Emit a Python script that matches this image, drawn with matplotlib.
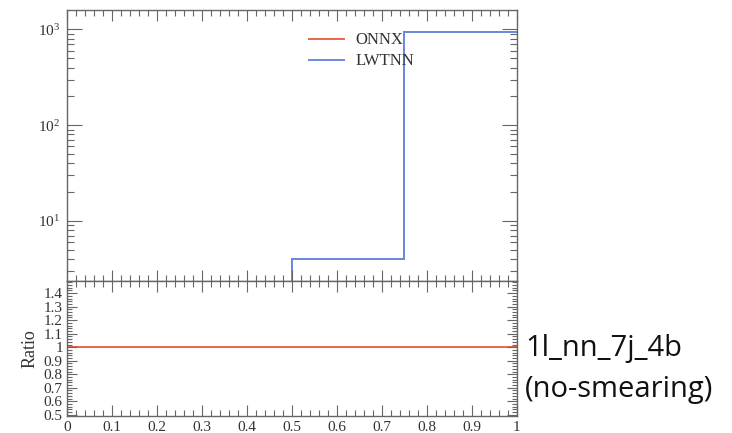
import matplotlib
matplotlib.use("Agg")

import matplotlib.pyplot as plt
from matplotlib.ticker import MultipleLocator, LogLocator, FixedLocator
import numpy as np

# Histogram data (bin edges and contents)
bin_edges = [0.0, 0.25, 0.5, 0.75, 1.0]
onnx_counts = [0, 0, 4, 940]
lwtnn_counts = [0, 0, 4, 940]
ratio_values = [1.0, 1.0, 1.0, 1.0]
ratio_ticks = [0.5, 0.6, 0.7, 0.8, 0.9, 1.0, 1.1, 1.2, 1.3, 1.4]
ratio_ticklabels = ["0.5", "0.6", "0.7", "0.8", "0.9", "1", "1.1", "1.2", "1.3", "1.4"]
x_ticks = [0, 0.1, 0.2, 0.3, 0.4, 0.5, 0.6, 0.7, 0.8, 0.9, 1.0]
x_ticklabels = ["0", "0.1", "0.2", "0.3", "0.4", "0.5", "0.6", "0.7", "0.8", "0.9", "1"]

plt.rcParams["font.family"] = ["Liberation Serif", "DejaVu Serif"]
plt.rcParams["mathtext.default"] = "regular"

ONNX_COLOR = "#e8674a"
LWTNN_COLOR = "#6a8ae0"
AXIS_COLOR = "#666666"
TEXT_COLOR = "#333333"

fig = plt.figure(figsize=(7.32, 4.33), dpi=100)
ax_top = fig.add_axes([0.0915, 0.351, 0.6145, 0.626])
ax_bot = fig.add_axes([0.0915, 0.039, 0.6145, 0.312], sharex=ax_top)

# -- Main panel -------------------------------------------------------
ax_top.set_yscale("log")
ax_top.stairs(onnx_counts, bin_edges, color=ONNX_COLOR, linewidth=1.4,
              baseline=None, label="ONNX")
ax_top.stairs(lwtnn_counts, bin_edges, color=LWTNN_COLOR, linewidth=1.4,
              baseline=None, label="LWTNN")
ax_top.set_xlim(0, 1)
ax_top.set_ylim(2.35, 1600)
ax_top.yaxis.set_major_locator(LogLocator(base=10, numticks=10))
ax_top.yaxis.set_minor_locator(LogLocator(base=10, subs=np.arange(2, 10), numticks=10))
leg = ax_top.legend(loc="upper left", bbox_to_anchor=(0.487, 1.0), frameon=False,
                    fontsize=12, handlelength=2.1, handletextpad=0.7,
                    borderaxespad=0.95, labelspacing=0.3)
for t in leg.get_texts():
    t.set_color(TEXT_COLOR)
plt.setp(ax_top.get_xticklabels(), visible=False)

# -- Ratio panel ------------------------------------------------------
ax_bot.stairs(ratio_values, bin_edges, color=ONNX_COLOR, linewidth=1.4, baseline=None)
ax_bot.set_ylim(0.49, 1.49)
ax_bot.yaxis.set_major_locator(FixedLocator(ratio_ticks))
ax_bot.set_yticklabels(ratio_ticklabels)
ax_bot.yaxis.set_minor_locator(MultipleLocator(0.02))
ax_bot.set_xticks(x_ticks)
ax_bot.set_xticklabels(x_ticklabels)
ax_bot.set_ylabel("Ratio", fontsize=13, color=TEXT_COLOR, labelpad=4)

for ax in (ax_top, ax_bot):
    ax.xaxis.set_minor_locator(MultipleLocator(0.02))
    ax.tick_params(which="both", direction="in", top=True, right=True,
                   color=AXIS_COLOR, labelcolor=TEXT_COLOR, labelsize=11, width=0.8)
    ax.tick_params(which="major", length=8)
    ax.tick_params(which="minor", length=4)
    for sp in ax.spines.values():
        sp.set_color(AXIS_COLOR)
        sp.set_linewidth(1.0)
ax_top.tick_params(axis="y", which="major", length=11, pad=5)
ax_top.tick_params(axis="y", which="minor", length=5)
ax_bot.tick_params(axis="y", which="major", length=7, pad=3)
ax_bot.tick_params(axis="y", which="minor", length=3.5)
ax_bot.tick_params(axis="y", labelsize=11)

fig.text(0.717, 0.148, "1l_nn_7j_4b\n(no-smearing)", fontsize=21,
         family=["Open Sans", "DejaVu Sans"], color="#111111",
         ha="left", va="center", linespacing=1.55)

fig.savefig("out.png", dpi=100)
plt.close(fig)
